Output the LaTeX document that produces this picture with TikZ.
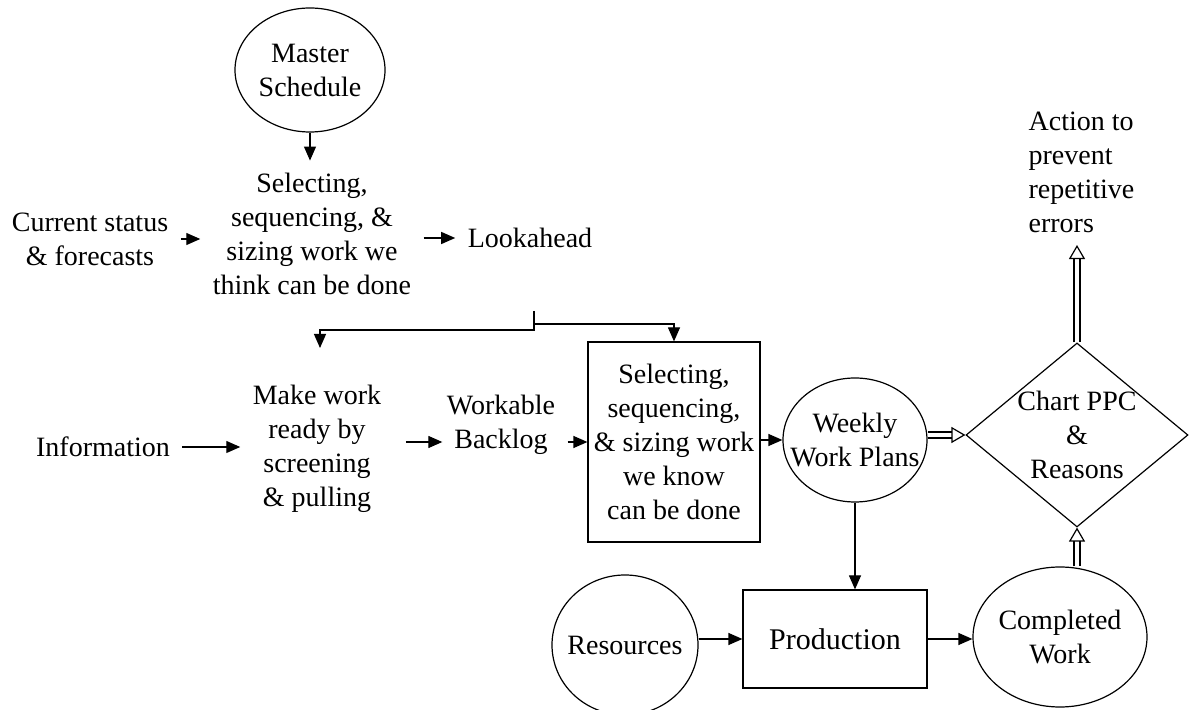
\documentclass[tikz,border=0pt]{standalone}
\usepackage{fontspec}
\setmainfont{Liberation Serif}
\usetikzlibrary{arrows.meta,positioning,calc,shapes.geometric}

\begin{document}
\begin{tikzpicture}[x=0.5pt,y=-0.5pt,line width=0.6pt,
  txt/.style={align=center,inner sep=6pt,font=\fontsize{14}{17}\selectfont},
  oval/.style={ellipse,draw,inner sep=0pt},
  arr/.style={-{Triangle[length=7pt,width=6pt]}},
  dbl/.style={double,double distance=2.4pt,-{Triangle[open,length=7pt,width=8pt,line width=0.6pt]}}]
  \useasboundingbox (0,0) rectangle (1190,710);
  % lookahead level
  \node[oval,minimum width=75pt,minimum height=62pt,label={[txt]center:Master\\Schedule}] (ms) at (310,70){};
  \node[txt] (sel1) at (312,234){Selecting,\\sequencing, \&\\sizing work we\\think can be done};
  \node[txt] (cur) at (90,239){Current status\\\& forecasts};
  \node[txt] (look) at (530,238){Lookahead};
  \coordinate (split) at (534,311);
  \coordinate (mwrtop) at (320,348);
  % weekly level
  \node[txt] (info) at (103,447){Information};
  \node[txt] (mwr) at (317,449){Make work\\ready by\\screening\\\& pulling};
  \node[txt] (wb) at (501,425){Workable\\Backlog};
  \node[txt,draw,minimum width=86pt,minimum height=100pt,inner sep=1pt] (sel2) at (674,442){Selecting,\\sequencing,\\\& sizing work\\we know\\can be done};
  \node[oval,minimum width=72pt,minimum height=62pt,label={[txt]center:Weekly\\Work Plans}] (wwp) at (855,440){};
  \node[diamond,draw,minimum width=111pt,minimum height=92pt,inner sep=0pt,label={[txt]center:Chart PPC\\\&\\Reasons}] (ppc) at (1077,435){};
  \node[txt,align=left,anchor=west] (act) at (1016,172){Action to\\prevent\\repetitive\\errors};
  % production level
  \node[oval,minimum width=73pt,minimum height=70pt,label={[txt]center:Resources}] (res) at (625,645){};
  \node[draw,minimum width=92pt,minimum height=49pt,font=\fontsize{15}{18}\selectfont] (prod) at (835,639){Production};
  \node[oval,minimum width=87pt,minimum height=70pt,label={[txt]center:Completed\\Work}] (cw) at (1060,637){};
  % connectors
  \draw[arr] (ms.south) -- (ms.south |- sel1.north);
  \draw[arr] (cur.east) -- (cur.east -| sel1.west);
  \draw[arr] (sel1.east |- look) -- (look.west);
  \draw[arr] (split) -- ++(0,19) -| (mwrtop);
  \draw[arr] (split) ++(0,13) -| (sel2.north);
  \draw[arr] (info.east) -- (info.east -| mwr.west);
  \draw[arr,shorten <=6pt,shorten >=-4pt] (mwr.east |- sel2) -- (wb.west |- sel2);
  \draw[arr] (wb.east |- sel2) -- (sel2.west);
  \draw[arr] (sel2.east |- wwp) -- (wwp.west);
  \draw[dbl] (ppc.west -| wwp.east) -- (ppc.west);
  \draw[dbl] (ppc.north) -- (ppc.north |- act.south);
  \draw[dbl] (ppc.south |- cw.north) -- (ppc.south);
  \draw[arr] (wwp.south) -- (wwp.south |- prod.north);
  \draw[arr] (res.east |- prod) -- (prod.west);
  \draw[arr] (prod.east) -- (prod.east -| cw.west);
\end{tikzpicture}
\end{document}
